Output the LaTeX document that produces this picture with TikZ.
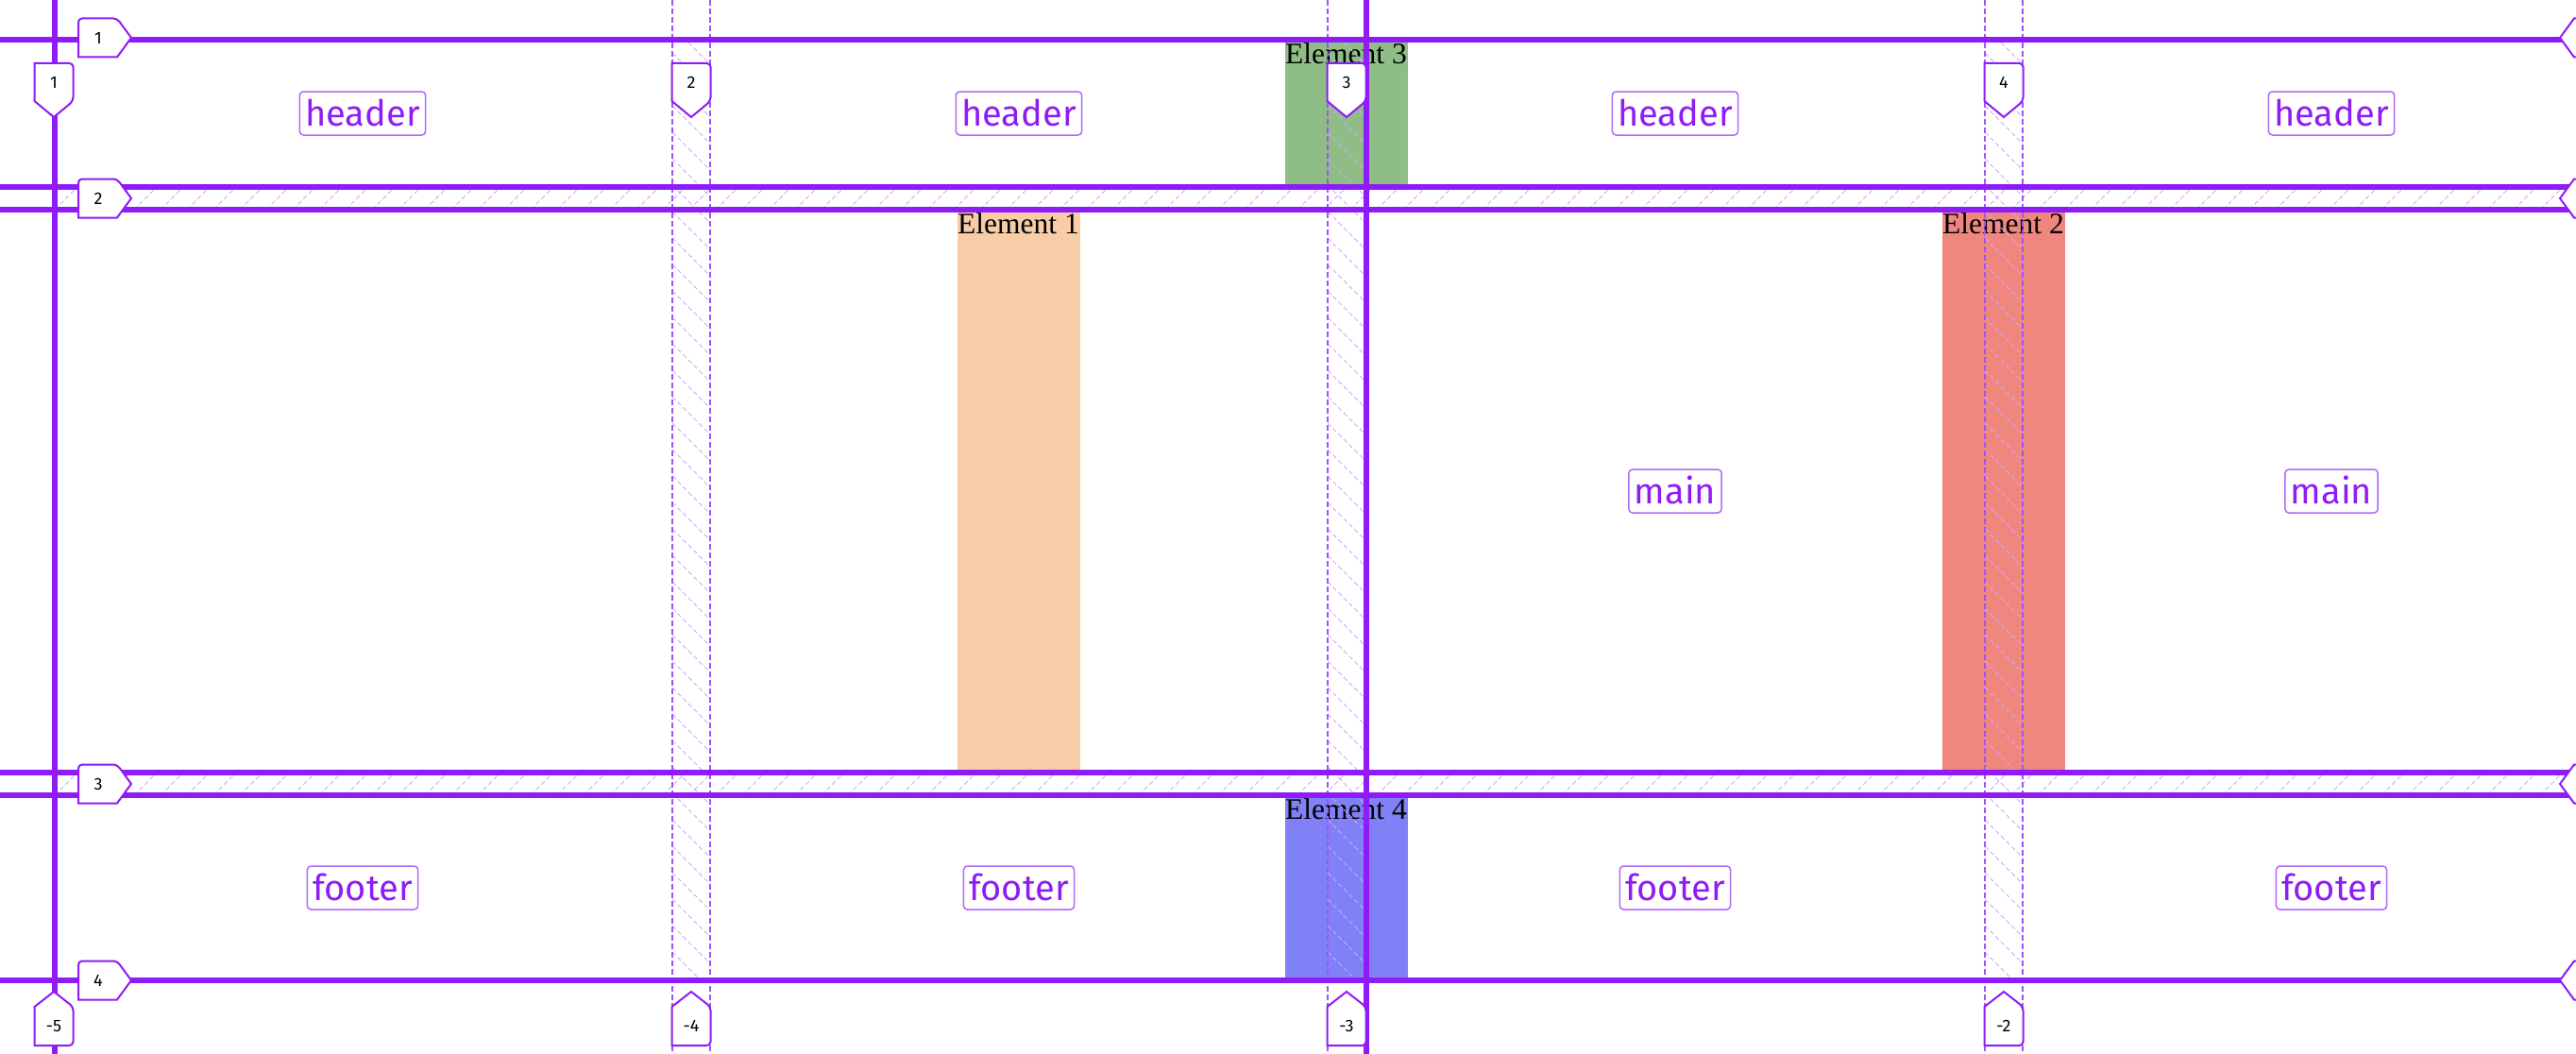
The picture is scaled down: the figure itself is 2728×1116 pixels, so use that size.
\documentclass[tikz,border=0pt]{standalone}
\usepackage{fontspec}
\setmainfont{Liberation Serif}
\newfontfamily\lblfont{Fira Sans}
\definecolor{gridpurple}{HTML}{8F1BF7}
\definecolor{dashpurple}{HTML}{A152F8}
\definecolor{hatchpurple}{HTML}{CDA8FB}
\definecolor{areaborder}{HTML}{B06AF9}
\definecolor{elA}{HTML}{F8CCA6}
\definecolor{elB}{HTML}{F0877F}
\definecolor{elC}{HTML}{8FBD86}
\definecolor{elD}{HTML}{8080F7}
\tikzset{
  thickline/.style={draw=gridpurple, line width=6pt},
  dashline/.style={draw=dashpurple, line width=2pt, dash pattern=on 6pt off 3pt},
  hatchline/.style={draw=hatchpurple, line width=0.8pt, dash pattern=on 5pt off 3pt},
  labshape/.style={draw=gridpurple, line width=2pt, fill=white, line join=miter},
  numtxt/.style={font=\lblfont\fontsize{18}{20}\selectfont, inner sep=0pt, text=black},
  areabox/.style={draw=areaborder, line width=1.5pt, rounded corners=4pt, fill=white,
    text=gridpurple, font=\lblfont\fontsize{38}{44}\selectfont, inner xsep=6pt,
    inner ysep=0pt, minimum height=46pt, text height=27pt, text depth=0pt},
  eltxt/.style={anchor=base west, inner sep=0pt, text=black, font=\fontsize{31.5}{36}\selectfont}
}
% left row label: name, center y, text
\newcommand{\rowlabL}[3]{%
  \draw[labshape] (83,#2) [rounded corners=4pt] -- (83,#2-20.5) -- (124,#2-20.5) [sharp corners]
    -- (139,#2) -- (124,#2+20.5) -- (83,#2+20.5) [rounded corners=4pt] -- cycle;
  \node[numtxt] (#1) at (104,#2) {#3};}
% right row label (clipped): center y
\newcommand{\rowlabR}[1]{%
  \draw[labshape] (2711,#1) -- (2726,#1-20.5) -- (2790,#1-20.5) -- (2790,#1+20.5) -- (2726,#1+20.5) -- cycle;}
% top column label: name, center x, text
\newcommand{\coltop}[3]{%
  \draw[labshape] (#2,67) [rounded corners=4pt] -- (#2+20.5,67) -- (#2+20.5,107) [sharp corners]
    -- (#2,124) -- (#2-20.5,107) -- (#2-20.5,67) [rounded corners=4pt] -- cycle;
  \node[numtxt] (#1) at (#2,87) {#3};}
% bottom column label: name, center x, text
\newcommand{\colbot}[3]{%
  \draw[labshape] (#2,1107) [rounded corners=4pt] -- (#2+20.5,1107) -- (#2+20.5,1066) [sharp corners]
    -- (#2,1050) -- (#2-20.5,1066) -- (#2-20.5,1107) [rounded corners=4pt] -- cycle;
  \node[numtxt] (#1) at (#2,1086.5) {#3};}
\begin{document}
\begin{tikzpicture}[x=1pt,y=-1pt]
\useasboundingbox (0,0) rectangle (2728,1116);
\clip (0,0) rectangle (2728,1116);
\fill[white] (0,0) rectangle (2728,1116);

% grid items
\fill[elA] (1014,222) rectangle (1144,818);
\fill[elB] (2057,222) rectangle (2187,818);
\fill[elC] (1361,42) rectangle (1491,198);
\fill[elD] (1361,842) rectangle (1491,1038);
\node[eltxt] (e1) at (1014,247) {Element 1};
\node[eltxt] (e2) at (2057,247) {Element 2};
\node[eltxt] (e3) at (1361,67) {Element 3};
\node[eltxt] (e4) at (1361,867) {Element 4};

% row gap hatching
\foreach \ta/\tb in {198/222,818/842}{
  \begin{scope}
    \clip (58,\ta) rectangle (2728,\tb);
    \foreach \x in {30,58,...,2760} \draw[hatchline] (\x,\tb) -- (\x+24,\ta);
  \end{scope}}
% column gap hatching
\foreach \ca/\cb in {712/752,1406/1447,2102/2142}{
  \begin{scope}
    \clip (\ca,42) rectangle (\cb,1038);
    \foreach \y in {0,28,...,1064} \draw[hatchline] (\ca,\y) -- (\cb,\y+\cb-\ca);
  \end{scope}}

% dashed lines
\foreach \x in {712,752,1406,2102,2142} \draw[dashline] (\x,0) -- (\x,1116);
% thick lines
\foreach \y in {42,198,222,818,842,1038} \draw[thickline] (0,\y) -- (2728,\y);
\foreach \x in {58,1447} \draw[thickline] (\x,0) -- (\x,1116);

% line number labels
\rowlabL{r1}{40}{1}
\rowlabL{r2}{210}{2}
\rowlabL{r3}{830}{3}
\rowlabL{r4}{1038}{4}
\rowlabR{40}
\rowlabR{210}
\rowlabR{830}
\rowlabR{1038}
\coltop{ct1}{57}{1}
\coltop{ct2}{732}{2}
\coltop{ct3}{1426}{3}
\coltop{ct4}{2122}{4}
\colbot{cb1}{57}{-5}
\colbot{cb2}{732}{-4}
\colbot{cb3}{1426}{-3}
\colbot{cb4}{2122}{-2}

% area names
\node[areabox] (h1) at (384,120) {header};
\node[areabox] (h2) at (1079,120) {header};
\node[areabox] (h3) at (1774,120) {header};
\node[areabox] (h4) at (2469,120) {header};
\node[areabox] (m3) at (1774,520) {main};
\node[areabox] (m4) at (2469,520) {main};
\node[areabox] (f1) at (384,940) {footer};
\node[areabox] (f2) at (1079,940) {footer};
\node[areabox] (f3) at (1774,940) {footer};
\node[areabox] (f4) at (2469,940) {footer};
\end{tikzpicture}
\end{document}
